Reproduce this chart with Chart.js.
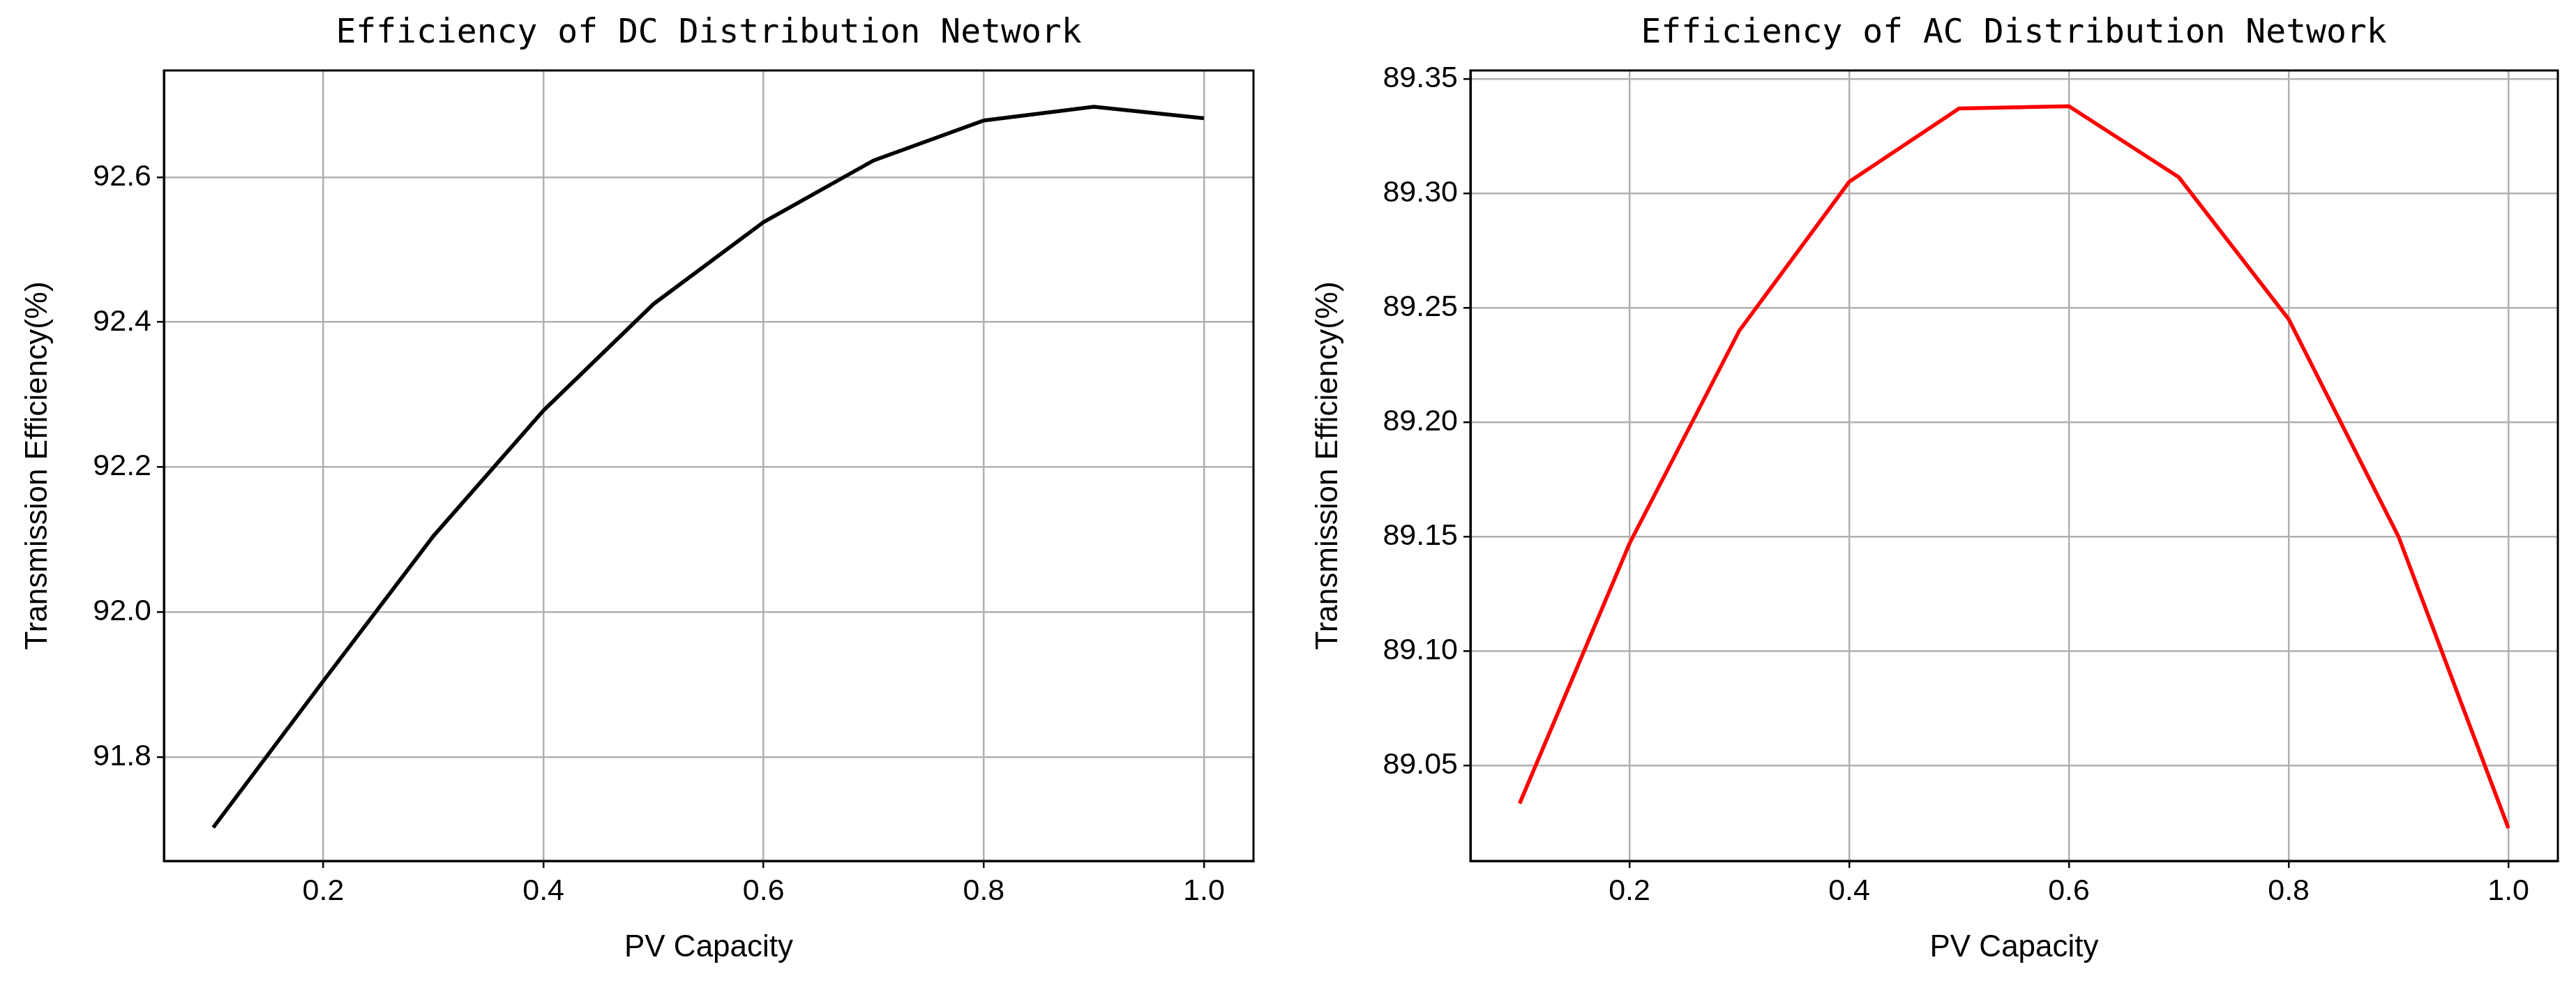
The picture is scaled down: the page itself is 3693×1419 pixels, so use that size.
<!DOCTYPE html>
<html>
<head>
<meta charset="utf-8">
<script src="https://cdn.jsdelivr.net/npm/chart.js@4/dist/chart.umd.min.js"></script>
<style>
  body { margin: 0; background: #fff; width: 3693px; height: 1419px; position: relative; overflow: hidden; }
  .box { position: absolute; top: 0; height: 1419px; }
  .ttl { position: absolute; top: 16px; font-family: "DejaVu Sans Mono", monospace; font-size: 48px; color: #000; white-space: nowrap; transform: translateX(-50%); }
</style>
</head>
<body>
<div class="box" style="left:0;width:1840px"><canvas id="dc"></canvas></div>
<div class="box" style="left:1850px;width:1843px"><canvas id="ac"></canvas></div>
<div class="ttl" style="left:1016px">Efficiency of DC Distribution Network</div>
<div class="ttl" style="left:2887px">Efficiency of AC Distribution Network</div>
<script>
const pvCapacity = [0.1, 0.2, 0.3, 0.4, 0.5, 0.6, 0.7, 0.8, 0.9, 1.0];
const dcEfficiency = [91.703, 91.905, 92.105, 92.278, 92.425, 92.538, 92.623, 92.678, 92.697, 92.681];
const acEfficiency = [89.0335, 89.147, 89.240, 89.305, 89.337, 89.338, 89.307, 89.245, 89.150, 89.0227];
const xTicks = [0.2, 0.4, 0.6, 0.8, 1.0];
const dcTicks = [91.8, 92.0, 92.2, 92.4, 92.6];
const acTicks = [89.05, 89.10, 89.15, 89.20, 89.25, 89.30, 89.35];

const frame = {
  id: "frame",
  afterDraw(chart) {
    const { ctx, chartArea: a } = chart;
    ctx.save();
    ctx.strokeStyle = "#000";
    ctx.lineWidth = 3;
    ctx.strokeRect(a.left, a.top, a.right - a.left, a.bottom - a.top);
    ctx.restore();
  },
};

function makeChart(id, values, color, yTicks, yMin, yMax, yDec, padLeft, yWidth, padRight) {
  const font = { family: "Liberation Sans, Arial", size: 43 };
  const titleFont = { family: "Liberation Sans, Arial", size: 44 };
  return new Chart(document.getElementById(id), {
    type: "line",
    data: {
      datasets: [{
        data: pvCapacity.map((x, i) => ({ x: x, y: values[i] })),
        borderColor: color,
        borderWidth: 5.5,
        pointRadius: 0,
        tension: 0,
      }],
    },
    options: {
      responsive: true,
      maintainAspectRatio: false,
      animation: false,
      devicePixelRatio: 1,
      layout: { padding: { top: 101, right: padRight, left: padLeft, bottom: 30 } },
      plugins: { legend: { display: false }, tooltip: { enabled: false } },
      scales: {
        x: {
          type: "linear",
          min: 0.0552,
          max: 1.045,
          afterBuildTicks: (s) => { s.ticks = xTicks.map((v) => ({ value: v })); },
          afterFit: (s) => { s.height = 155; },
          ticks: { color: "#000", font: font, padding: 8, callback: (v) => v.toFixed(1) },
          grid: { color: "#b0b0b0", lineWidth: 2.5, tickColor: "#000", tickLength: 10 },
          border: { color: "#000", width: 3 },
          title: { display: true, text: "PV Capacity", color: "#000", font: titleFont, padding: { top: 8 } },
        },
        y: {
          min: yMin,
          max: yMax,
          afterBuildTicks: (s) => { s.ticks = yTicks.map((v) => ({ value: v })); },
          afterFit: (s) => { s.width = yWidth; },
          ticks: { color: "#000", font: font, padding: 8, callback: (v) => v.toFixed(yDec) },
          grid: { color: "#b0b0b0", lineWidth: 2.5, tickColor: "#000", tickLength: 10 },
          border: { color: "#000", width: 3 },
          title: { display: true, text: "Transmission Efficiency(%)", color: "#000", font: titleFont, padding: { bottom: 10 } },
        },
      },
    },
    plugins: [frame],
  });
}

makeChart("dc", dcEfficiency, "#000000", dcTicks, 91.657, 92.747, 1, 24, 211, 43);
makeChart("ac", acEfficiency, "#ff0000", acTicks, 89.0084, 89.3536, 2, 24, 234, 26);
</script>
</body>
</html>
